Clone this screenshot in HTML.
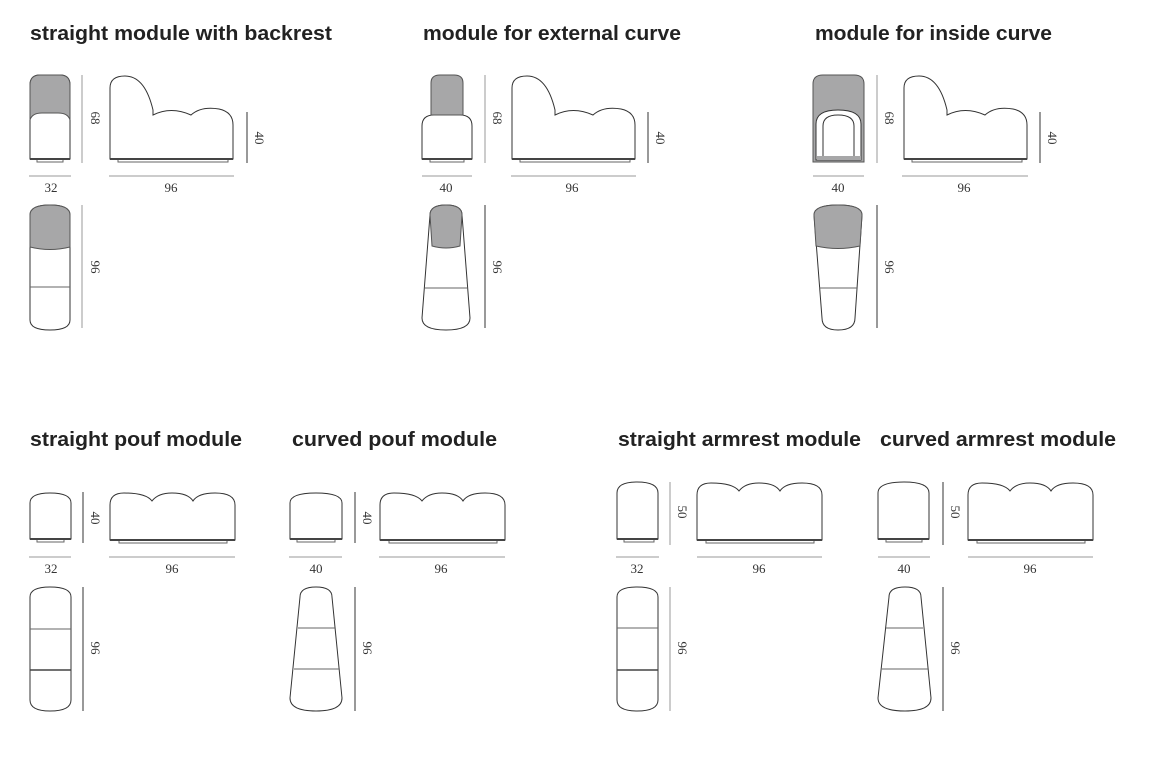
<!DOCTYPE html>
<html><head><meta charset="utf-8"><style>
html,body{margin:0;padding:0;background:#fff;}
svg{display:block;}
.t{font-family:"Liberation Sans",sans-serif;font-weight:bold;font-size:20px;fill:#222;}
.n{font-family:"Liberation Serif",serif;font-size:13px;fill:#333;}
.o{fill:#fff;stroke:#333;stroke-width:1;}
.g{fill:#a7a7a8;stroke:#555;stroke-width:1;}
.d{stroke:#999;stroke-width:1;fill:none;}
.dk{stroke:#333;stroke-width:1;fill:none;}
.b{stroke:#444;stroke-width:2;}
.f{fill:#fff;stroke:#666;stroke-width:1;}
.l{stroke:#666;stroke-width:1;}
</style></head><body>
<svg width="1162" height="764" viewBox="0 0 1162 764" xmlns="http://www.w3.org/2000/svg">
<defs>
<g id="sideBack">
<rect class="f" x="9" y="82" width="110" height="4"/>
<path class="o" d="M1,83 L1,12 Q1,0 16,0 Q36,0 44,34 L44,39 Q62,30 82,39 Q92,30 110,33 Q124,36 124,49 L124,83 Z"/>
<line class="b" x1="1" y1="83" x2="124" y2="83"/>
</g>
<g id="sidePouf">
<rect class="f" x="9" y="46" width="108" height="4"/>
<path class="o" d="M0,47 L0,12 Q0,0 14,0 Q36,0 42,8 Q48,0 62,0 Q78,0 83,8 Q88,0 105,0 Q125,0 125,12 L125,47 Z"/>
<line class="b" x1="0" y1="47" x2="125" y2="47"/>
</g>
<g id="sideArm">
<rect class="f" x="9" y="56" width="108" height="4"/>
<path class="o" d="M0,57 L0,12 Q0,0 14,0 Q36,0 42,8 Q48,0 62,0 Q78,0 83,8 Q88,0 105,0 Q125,0 125,12 L125,57 Z"/>
<line class="b" x1="0" y1="57" x2="125" y2="57"/>
</g>
</defs>

<!-- titles -->
<text class="t" x="30" y="40" textLength="302" lengthAdjust="spacingAndGlyphs">straight module with backrest</text>
<text class="t" x="423" y="40" textLength="258" lengthAdjust="spacingAndGlyphs">module for external curve</text>
<text class="t" x="815" y="40" textLength="237" lengthAdjust="spacingAndGlyphs">module for inside curve</text>
<text class="t" x="30" y="446" textLength="212" lengthAdjust="spacingAndGlyphs">straight pouf module</text>
<text class="t" x="292" y="446" textLength="205" lengthAdjust="spacingAndGlyphs">curved pouf module</text>
<text class="t" x="618" y="446" textLength="243" lengthAdjust="spacingAndGlyphs">straight armrest module</text>
<text class="t" x="880" y="446" textLength="236" lengthAdjust="spacingAndGlyphs">curved armrest module</text>

<!-- ===== Group 1 ===== -->
<rect class="f" x="37" y="158" width="26" height="4"/>
<path class="o" d="M30,159 L30,85 Q30,75 40,75 L60,75 Q70,75 70,85 L70,159 Z"/>
<path class="g" d="M30,120 L30,85 Q30,75 40,75 L60,75 Q70,75 70,85 L70,120 Q68,113 58,113 L42,113 Q32,113 30,120 Z"/>
<line class="b" x1="30" y1="159" x2="70" y2="159"/>
<line class="d" x1="82" y1="75" x2="82" y2="163"/>
<text class="n" transform="translate(91,118) rotate(90)" text-anchor="middle">68</text>
<use href="#sideBack" x="109" y="76"/>
<line class="dk" x1="247" y1="112" x2="247" y2="163"/>
<text class="n" transform="translate(255,138) rotate(90)" text-anchor="middle">40</text>
<line class="d" x1="29" y1="176" x2="71" y2="176"/>
<line class="d" x1="109" y1="176" x2="234" y2="176"/>
<text class="n" x="51" y="192" text-anchor="middle">32</text>
<text class="n" x="171" y="192" text-anchor="middle">96</text>
<path class="o" d="M30,215 Q30,205 50,205 Q70,205 70,215 L70,320 Q70,330 50,330 Q30,330 30,320 Z"/>
<path class="g" d="M30,247 L30,215 Q30,205 50,205 Q70,205 70,215 L70,247 Q50,252 30,247 Z"/>
<line class="l" x1="30" y1="287" x2="70" y2="287"/>
<line class="d" x1="82" y1="205" x2="82" y2="328"/>
<text class="n" transform="translate(91,267) rotate(90)" text-anchor="middle">96</text>

<!-- ===== Group 2 ===== -->
<rect class="f" x="430" y="158" width="34" height="4"/>
<path class="o" d="M422,159 L422,126 Q422,115 434,115 L460,115 Q472,115 472,126 L472,159 Z"/>
<path class="g" d="M431,115 L431,83 Q431,75 440,75 L454,75 Q463,75 463,83 L463,115 Z"/>
<line class="b" x1="422" y1="159" x2="472" y2="159"/>
<line class="d" x1="485" y1="75" x2="485" y2="163"/>
<text class="n" transform="translate(493,118) rotate(90)" text-anchor="middle">68</text>
<use href="#sideBack" x="511" y="76"/>
<line class="dk" x1="648" y1="112" x2="648" y2="163"/>
<text class="n" transform="translate(656,138) rotate(90)" text-anchor="middle">40</text>
<line class="d" x1="422" y1="176" x2="472" y2="176"/>
<line class="d" x1="511" y1="176" x2="636" y2="176"/>
<text class="n" x="446" y="192" text-anchor="middle">40</text>
<text class="n" x="572" y="192" text-anchor="middle">96</text>
<path class="o" d="M430,215 Q430,205 446,205 Q462,205 462,215 L470,318 Q470,330 446,330 Q422,330 422,318 Z"/>
<path class="g" d="M432,246 L430,215 Q430,205 446,205 Q462,205 462,215 L460,246 Q446,250 432,246 Z"/>
<line class="l" x1="425" y1="288" x2="467" y2="288"/>
<line class="dk" x1="485" y1="205" x2="485" y2="328"/>
<text class="n" transform="translate(493,267) rotate(90)" text-anchor="middle">96</text>

<!-- ===== Group 3 ===== -->
<path class="g" d="M813,162 L813,84 Q813,75 823,75 L854,75 Q864,75 864,84 L864,162 Z"/>
<path class="o" d="M816,160 L816,124 Q816,110 838,110 Q861,110 861,124 L861,160 Z"/>
<path class="o" d="M823,160 L823,126 Q823,115 838,115 Q854,115 854,126 L854,160"/>
<rect x="817" y="156" width="44" height="4" fill="#a7a7a8"/>
<line class="d" x1="877" y1="75" x2="877" y2="163"/>
<text class="n" transform="translate(885,118) rotate(90)" text-anchor="middle">68</text>
<use href="#sideBack" x="903" y="76"/>
<line class="dk" x1="1040" y1="112" x2="1040" y2="163"/>
<text class="n" transform="translate(1048,138) rotate(90)" text-anchor="middle">40</text>
<line class="d" x1="813" y1="176" x2="864" y2="176"/>
<line class="d" x1="902" y1="176" x2="1028" y2="176"/>
<text class="n" x="838" y="192" text-anchor="middle">40</text>
<text class="n" x="964" y="192" text-anchor="middle">96</text>
<path class="o" d="M814,215 Q814,205 838,205 Q862,205 862,215 L855,318 Q855,330 838,330 Q822,330 822,318 Z"/>
<path class="g" d="M816,246 L814,215 Q814,205 838,205 Q862,205 862,215 L860,246 Q838,251 816,246 Z"/>
<line class="l" x1="819" y1="288" x2="857" y2="288"/>
<line class="dk" x1="877" y1="205" x2="877" y2="328"/>
<text class="n" transform="translate(885,267) rotate(90)" text-anchor="middle">96</text>

<!-- ===== Straight pouf ===== -->
<rect class="f" x="37" y="538" width="27" height="4"/>
<path class="o" d="M30,539 L30,503 Q30,493 50,493 Q71,493 71,503 L71,539 Z"/>
<line class="b" x1="30" y1="539" x2="71" y2="539"/>
<line class="dk" x1="83" y1="492" x2="83" y2="543"/>
<text class="n" transform="translate(91,518) rotate(90)" text-anchor="middle">40</text>
<use href="#sidePouf" x="110" y="493"/>
<line class="d" x1="29" y1="557" x2="71" y2="557"/>
<line class="d" x1="109" y1="557" x2="235" y2="557"/>
<text class="n" x="51" y="573" text-anchor="middle">32</text>
<text class="n" x="172" y="573" text-anchor="middle">96</text>
<path class="o" d="M30,597 Q30,587 50,587 Q71,587 71,597 L71,700 Q71,711 50,711 Q30,711 30,700 Z"/>
<line class="l" x1="30" y1="629" x2="71" y2="629"/>
<line class="b" x1="30" y1="670" x2="71" y2="670" style="stroke-width:1.5"/>
<line class="dk" x1="83" y1="587" x2="83" y2="711"/>
<text class="n" transform="translate(91,648) rotate(90)" text-anchor="middle">96</text>

<!-- ===== Curved pouf ===== -->
<rect class="f" x="297" y="538" width="38" height="4"/>
<path class="o" d="M290,539 L290,503 Q290,493 316,493 Q342,493 342,503 L342,539 Z"/>
<line class="b" x1="290" y1="539" x2="342" y2="539"/>
<line class="dk" x1="355" y1="492" x2="355" y2="543"/>
<text class="n" transform="translate(363,518) rotate(90)" text-anchor="middle">40</text>
<use href="#sidePouf" x="380" y="493"/>
<line class="d" x1="289" y1="557" x2="342" y2="557"/>
<line class="d" x1="379" y1="557" x2="505" y2="557"/>
<text class="n" x="316" y="573" text-anchor="middle">40</text>
<text class="n" x="441" y="573" text-anchor="middle">96</text>
<path class="o" d="M300,597 Q300,587 316,587 Q332,587 332,597 L342,698 Q342,711 316,711 Q290,711 290,698 Z"/>
<line class="l" x1="298" y1="628" x2="335" y2="628"/>
<line class="l" x1="294" y1="669" x2="339" y2="669"/>
<line class="dk" x1="355" y1="587" x2="355" y2="711"/>
<text class="n" transform="translate(363,648) rotate(90)" text-anchor="middle">96</text>

<!-- ===== Straight armrest ===== -->
<rect class="f" x="624" y="538" width="30" height="4"/>
<path class="o" d="M617,539 L617,493 Q617,482 637,482 Q658,482 658,493 L658,539 Z"/>
<line class="b" x1="617" y1="539" x2="658" y2="539"/>
<line class="d" x1="670" y1="482" x2="670" y2="545"/>
<text class="n" transform="translate(678,512) rotate(90)" text-anchor="middle">50</text>
<use href="#sideArm" x="697" y="483"/>
<line class="d" x1="616" y1="557" x2="659" y2="557"/>
<line class="d" x1="697" y1="557" x2="822" y2="557"/>
<text class="n" x="637" y="573" text-anchor="middle">32</text>
<text class="n" x="759" y="573" text-anchor="middle">96</text>
<path class="o" d="M617,597 Q617,587 637,587 Q658,587 658,597 L658,700 Q658,711 637,711 Q617,711 617,700 Z"/>
<line class="l" x1="617" y1="628" x2="658" y2="628"/>
<line class="b" x1="617" y1="670" x2="658" y2="670" style="stroke-width:1.5"/>
<line class="d" x1="670" y1="587" x2="670" y2="711"/>
<text class="n" transform="translate(678,648) rotate(90)" text-anchor="middle">96</text>

<!-- ===== Curved armrest ===== -->
<rect class="f" x="886" y="538" width="36" height="4"/>
<path class="o" d="M878,539 L878,493 Q878,482 904,482 Q929,482 929,493 L929,539 Z"/>
<line class="b" x1="878" y1="539" x2="929" y2="539"/>
<line class="dk" x1="943" y1="482" x2="943" y2="545"/>
<text class="n" transform="translate(951,512) rotate(90)" text-anchor="middle">50</text>
<use href="#sideArm" x="968" y="483"/>
<line class="d" x1="878" y1="557" x2="930" y2="557"/>
<line class="d" x1="968" y1="557" x2="1093" y2="557"/>
<text class="n" x="904" y="573" text-anchor="middle">40</text>
<text class="n" x="1030" y="573" text-anchor="middle">96</text>
<path class="o" d="M889,597 Q889,587 905,587 Q921,587 921,597 L931,698 Q931,711 905,711 Q878,711 878,698 Z"/>
<line class="l" x1="886" y1="628" x2="923" y2="628"/>
<line class="l" x1="882" y1="669" x2="928" y2="669"/>
<line class="dk" x1="943" y1="587" x2="943" y2="711"/>
<text class="n" transform="translate(951,648) rotate(90)" text-anchor="middle">96</text>
</svg>
</body></html>
